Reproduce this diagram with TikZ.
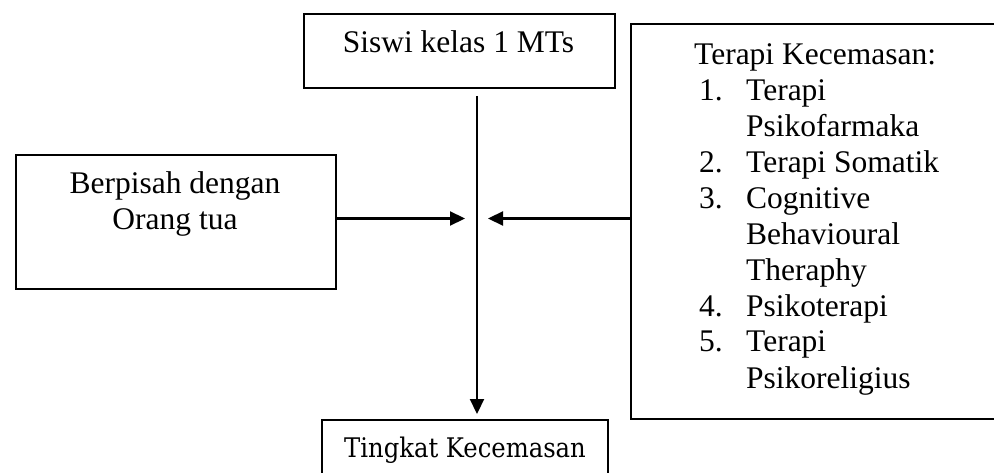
\documentclass[tikz,border=0pt]{standalone}
\usepackage{fontspec}
\setmainfont{Liberation Serif}
\newfontfamily\cambriafont{DejaVu Serif Condensed}
\usetikzlibrary{arrows.meta}
\tikzset{
  boxnode/.style={draw, line width=2pt, rectangle, inner sep=0pt, anchor=north west},
  txt/.style={font=\fontsize{31.5}{36}\selectfont, inner sep=0pt},
  conn/.style={line width=2.2pt, -{Triangle[length=15pt,width=14pt]}},
}
\newcommand{\itm}[2]{\hspace{5pt}\makebox[47pt][l]{#1}#2}
\begin{document}
\begin{tikzpicture}[x=1pt,y=-1pt]
\useasboundingbox (0,0) rectangle (994,473);
% boxes
\node[boxnode, minimum width=311pt, minimum height=74pt] (top) at (303,13) {};
\node[boxnode, minimum width=380pt, minimum height=395pt] (right) at (630,23) {};
\node[boxnode, minimum width=320pt, minimum height=134pt] (left) at (15,154) {};
\node[boxnode, minimum width=286pt, minimum height=70pt] (bottom) at (321,419) {};
% texts (base anchor = baseline of the last line)
\node[txt, anchor=base] (toptxt) at (458.5,53) {Siswi kelas 1 MTs};
\node[txt, anchor=base, align=center] (lefttxt) at (175,230) {Berpisah dengan\\Orang tua};
\node[txt, anchor=base west, align=left] (righttxt) at (694,388) {Terapi Kecemasan:\\
\itm{1.}{Terapi}\\
\itm{}{Psikofarmaka}\\
\itm{2.}{Terapi Somatik}\\
\itm{3.}{Cognitive}\\
\itm{}{Behavioural}\\
\itm{}{Theraphy}\\
\itm{4.}{Psikoterapi}\\
\itm{5.}{Terapi}\\
\itm{}{Psikoreligius}};
\node[inner sep=0pt, anchor=base, font=\cambriafont\fontsize{27}{32}\selectfont] (bottomtxt) at (465,457) {Tingkat Kecemasan};
% connectors
\coordinate (vx) at (477,218.5);
\coordinate (vtop) at (477,96);
\draw[conn, shorten >=5pt] (vtop) -- (bottom.north -| vx);
\draw[conn, shorten >=12pt] (left.east |- vx) -- (vx);
\draw[conn, shorten >=11pt] (right.west |- vx) -- (vx);
\end{tikzpicture}
\end{document}
